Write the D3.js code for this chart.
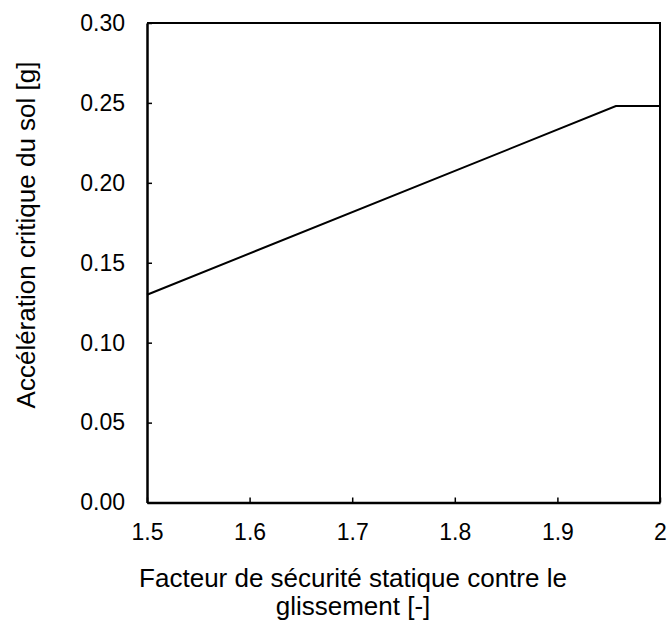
<!DOCTYPE html>
<html>
<head>
<meta charset="utf-8">
<script src="https://cdn.jsdelivr.net/npm/d3@7"></script>
<style>
  body { margin: 0; background: #fff; }
  text { font-family: "Liberation Sans", Arial, sans-serif; fill: #000; }
</style>
</head>
<body>
<div class="chart"></div>
<script>
const xValues = [1.5, 1.957, 2.0];
const yValues = [0.13, 0.248, 0.248];
const xTicks = [1.5, 1.6, 1.7, 1.8, 1.9, 2.0];
const xTickLabels = ["1.5", "1.6", "1.7", "1.8", "1.9", "2"];
const yTicks = [0, 0.05, 0.10, 0.15, 0.20, 0.25, 0.30];
const yTickLabels = ["0.00", "0.05", "0.10", "0.15", "0.20", "0.25", "0.30"];

const width = 668;
const height = 621;
const margin = { left: 147, right: 8, top: 23, bottom: 118.5 };

const svg = d3.select(".chart")
	.append("svg")
		.attr("width", width)
		.attr("height", height);

const x = d3.scaleLinear()
	.domain([1.5, 2.0])
	.range([margin.left, width - margin.right]);
const y = d3.scaleLinear()
	.domain([0, 0.30])
	.range([height - margin.bottom, margin.top]);

// x axis, ticks pointing inward
const xAxis = svg.append("g")
	.attr("transform", `translate(0, ${y(0)})`)
	.call(d3.axisBottom(x)
		.tickValues(xTicks)
		.tickSizeInner(-5)
		.tickSizeOuter(0)
		.tickPadding(21)
		.tickFormat((d, i) => xTickLabels[i]));

const yAxis = svg.append("g")
	.attr("transform", `translate(${x(1.5)}, 0)`)
	.call(d3.axisLeft(y)
		.tickValues(yTicks)
		.tickSizeInner(-5)
		.tickSizeOuter(0)
		.tickPadding(22)
		.tickFormat((d, i) => yTickLabels[i]));

[xAxis, yAxis].forEach((g) => {
	g.selectAll(".domain").attr("stroke", "#000").attr("stroke-width", 2.5);
	g.selectAll(".tick line").attr("stroke", "#000").attr("stroke-width", 1.5);
	g.selectAll(".tick text")
		.style("font-size", "23px")
		.style("font-family", "Liberation Sans, Arial, sans-serif");
});

// frame: top and right border
svg.append("path")
	.attr("d", `M${x(1.5)},${y(0.30)}H${x(2.0)}V${y(0)}`)
	.attr("fill", "none")
	.attr("stroke", "#000")
	.attr("stroke-width", 2);

// data line
const line = d3.line()
	.x((d, i) => x(xValues[i]))
	.y((d, i) => y(yValues[i]));

svg.append("path")
	.datum(xValues)
	.attr("d", line)
	.attr("fill", "none")
	.attr("stroke", "#000")
	.attr("stroke-width", 2);

// axis titles
svg.append("text")
	.attr("transform", "translate(35, 235) rotate(-90)")
	.attr("text-anchor", "middle")
	.style("font-size", "26px")
	.text("Accélération critique du sol [g]");

const xTitle = svg.append("text")
	.attr("text-anchor", "middle")
	.style("font-size", "26px");
xTitle.append("tspan")
	.attr("x", 353).attr("y", 587)
	.text("Facteur de sécurité statique contre le");
xTitle.append("tspan")
	.attr("x", 353).attr("y", 615)
	.text("glissement [-]");
</script>
</body>
</html>
